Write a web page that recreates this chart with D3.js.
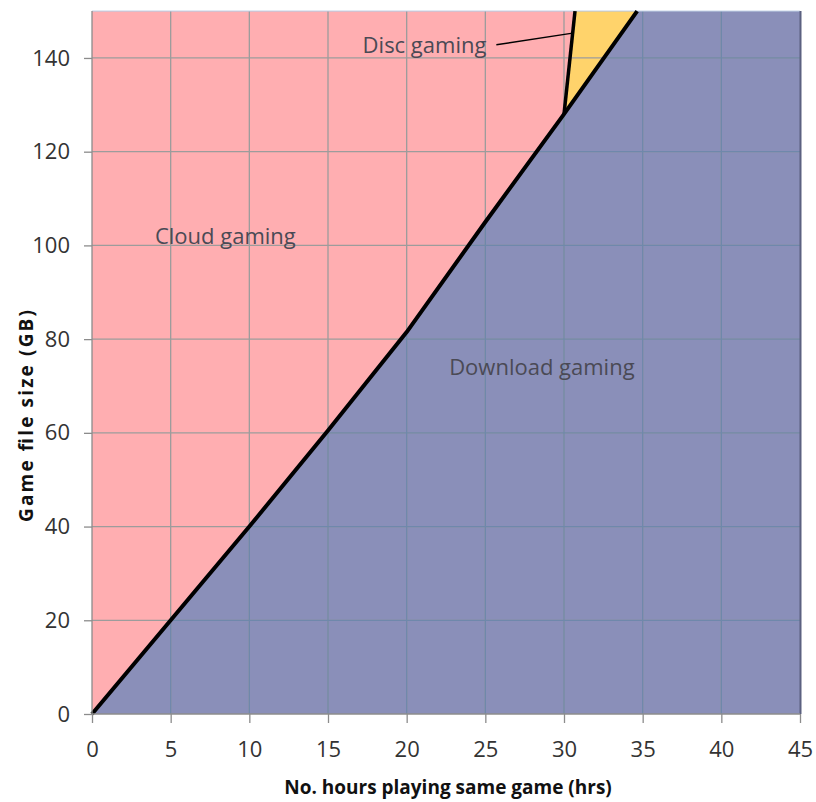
<!DOCTYPE html>
<html><head><meta charset="utf-8">
<script src="https://cdn.jsdelivr.net/npm/d3@7"></script>
<style>body{margin:0;background:#fff}svg{display:block}text{font-family:"Open Sans",sans-serif}</style>
</head><body>
<svg id="c" width="816" height="802"></svg>
<script>
// Boundary between cloud and download gaming (hours, GB)
const boundaryHours = [0, 5, 10, 15, 20, 25, 30, 34.65];
const boundarySize  = [0, 20, 40, 60.5, 81.5, 105, 128, 150];
// Disc gaming boundary
const discHours = [30, 30.7];
const discSize  = [128, 150];
const xTicks = [0,5,10,15,20,25,30,35,40,45];
const yTicks = [0,20,40,60,80,100,120,140];
const labels = [
  {text:"Cloud gaming", h:4.0, s:102},
  {text:"Download gaming", h:22.7, s:74},
  {text:"Disc gaming", h:17.2, s:142.6}
];
const leaderHours = [25.7, 30.55];
const leaderSize = [142.8, 145.3];

const svg = d3.select("#c");
const x = d3.scaleLinear().domain([0,45]).range([92,800]);
const y = d3.scaleLinear().domain([0,150]).range([714,11.1]);

const bPts = boundaryHours.map((h,i)=>[h,boundarySize[i]]);
const dPts = discHours.map((h,i)=>[h,discSize[i]]);
const line = d3.line().x(d=>x(d[0])).y(d=>y(d[1]));

svg.append("rect").attr("x",x(0)).attr("y",y(150)).attr("width",x(45)-x(0)).attr("height",y(0)-y(150)).attr("fill","#ffaeb1");
const yellowPts = [dPts[0], dPts[1], bPts[bPts.length-1]];
svg.append("path").attr("d", line(yellowPts)+"Z").attr("fill","#ffd36b");
const dlPts = bPts.concat([[45,150],[45,0]]);
const dlPath = line(dlPts)+"Z";
svg.append("path").attr("d", dlPath).attr("fill","#8a8fb9");
svg.append("clipPath").attr("id","dlclip").append("path").attr("d", dlPath);

function grid(g, color){
  g.selectAll(".vx").data(xTicks.slice(1,-1)).join("line")
   .attr("x1",d=>x(d)).attr("x2",d=>x(d)).attr("y1",y(0)).attr("y2",y(150))
   .attr("stroke",color).attr("stroke-width",1.3);
  g.selectAll(".hy").data(yTicks.slice(1)).join("line").attr("class","hy")
   .attr("x1",x(0)).attr("x2",x(45)).attr("y1",d=>y(d)).attr("y2",d=>y(d))
   .attr("stroke",color).attr("stroke-width",1.3);
}
grid(svg.append("g"), "#9c9c9c");
grid(svg.append("g").attr("clip-path","url(#dlclip)"), "#6f88ab");

svg.append("line").attr("x1",x(0)).attr("x2",x(45)).attr("y1",y(150)).attr("y2",y(150)).attr("stroke","#b8c8e0").attr("stroke-width",1);
svg.append("line").attr("x1",x(45)+0.5).attr("x2",x(45)+0.5).attr("y1",y(150)).attr("y2",y(0)).attr("stroke","#5b6080").attr("stroke-width",2);

svg.append("path").attr("d", line(bPts)).attr("fill","none").attr("stroke","#000").attr("stroke-width",4).attr("stroke-linejoin","round");
svg.append("path").attr("d", line(dPts)).attr("fill","none").attr("stroke","#000").attr("stroke-width",3.5);

const xAxis = d3.axisBottom(x).tickValues(xTicks).tickSize(9).tickPadding(18).tickFormat(d3.format("d"));
const yAxis = d3.axisLeft(y).tickValues(yTicks).tickSize(8).tickPadding(14).tickFormat(d3.format("d"));
const gx = svg.append("g").attr("transform",`translate(0,${y(0)})`).call(xAxis);
const gy = svg.append("g").attr("transform",`translate(${x(0)},0)`).call(yAxis);
[gx,gy].forEach(g=>{
  g.select(".domain").remove();
  g.selectAll(".tick line").attr("stroke","#8c8c8c").attr("stroke-width",1.3);
  g.selectAll(".tick text").attr("fill","#333").style("font-size","22px");
});
gx.selectAll(".tick text").attr("dy","0.71em");
svg.append("line").attr("x1",x(0)).attr("x2",x(45)).attr("y1",y(0)).attr("y2",y(0)).attr("stroke","#8c8c8c").attr("stroke-width",1.3);
svg.append("line").attr("x1",x(0)).attr("x2",x(0)).attr("y1",y(0)).attr("y2",y(150)).attr("stroke","#8c8c8c").attr("stroke-width",1.3);

svg.selectAll(".lbl").data(labels).join("text").attr("class","lbl")
  .attr("x",d=>x(d.h)).attr("y",d=>y(d.s)).attr("dy","0.35em")
  .attr("fill","#4a4a55").style("font-size","22px").text(d=>d.text);
svg.append("path").attr("d", line(leaderHours.map((h,i)=>[h,leaderSize[i]]))).attr("stroke","#000").attr("stroke-width",1.5).attr("fill","none");

svg.append("text").attr("x",448).attr("y",794).attr("text-anchor","middle").style("font-size","19px").style("font-weight","bold").attr("fill","#111").text("No. hours playing same game (hrs)");
svg.append("text").attr("transform","translate(33,416) rotate(-90)").attr("text-anchor","middle")
  .attr("textLength",212).attr("lengthAdjust","spacing")
  .style("font-size","19px").style("font-weight","bold").attr("fill","#111").text("Game file size (GB)");
</script>
</body></html>
